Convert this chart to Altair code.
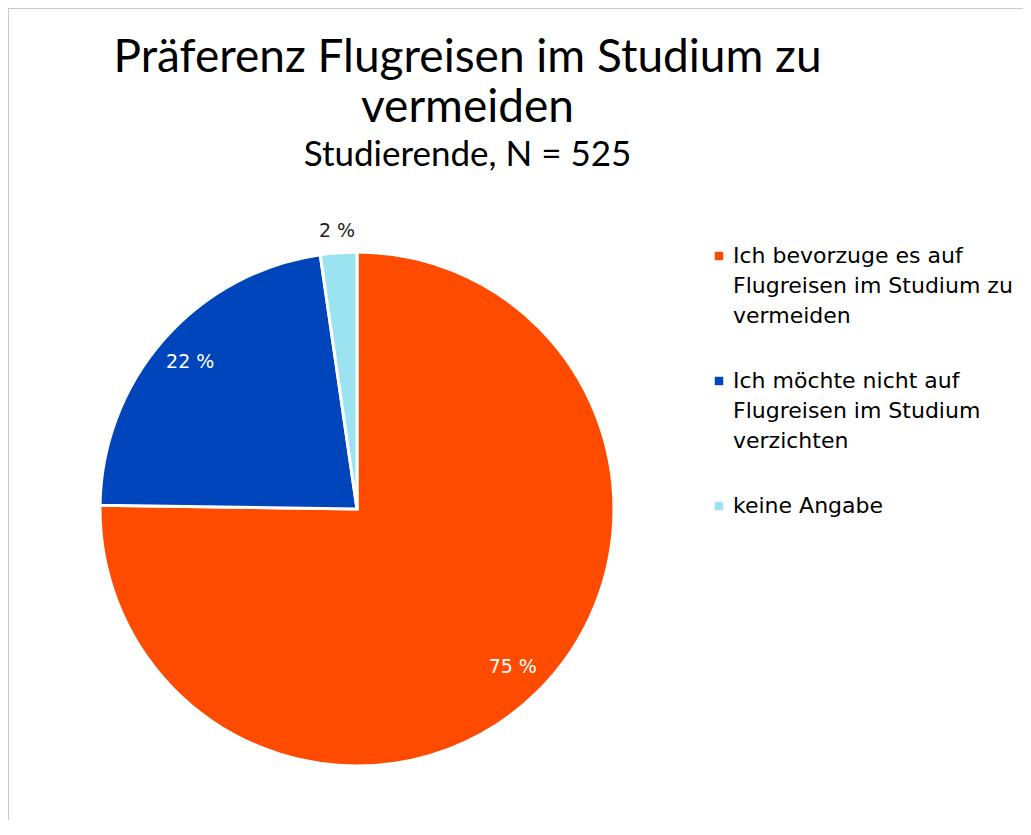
import altair as alt
import pandas as pd

# ---- data ----
categories = [
    "Ich bevorzuge es auf|Flugreisen im Studium zu|vermeiden",
    "Ich möchte nicht auf|Flugreisen im Studium|verzichten",
    "keine Angabe",
]
counts = [395, 118, 12]
order = [1, 2, 3]
colors = ["#FF4B00", "#0045BC", "#9BE3F0"]

title_lines = ["Präferenz Flugreisen im Studium zu", "vermeiden"]
subtitle = "Studierende, N = 525"

df = pd.DataFrame({"kategorie": categories, "anzahl": counts, "reihenfolge": order})

# ---- layout ----
PT = 185
W, H = 1015, 620
CX, CY = 349, 316
R = 257
TITLE_FONT = "Lato, sans-serif"
BODY_FONT = "DejaVu Sans, sans-serif"

base = alt.Chart(df).transform_joinaggregate(
    total="sum(anzahl)"
).transform_window(
    kum="sum(anzahl)", sort=[alt.SortField("reihenfolge")]
).transform_calculate(
    anteil="datum.anzahl / datum.total",
    winkel="2 * PI * (datum.kum - datum.anzahl / 2) / datum.total",
    label="format(round(100 * datum.anzahl / datum.total), 'd') + ' %'",
    lr="datum.anzahl / datum.total < 0.05 ? 279 : 222",
)

pie = base.mark_arc(radius=R, stroke="white", strokeWidth=3).encode(
    theta=alt.Theta("anzahl:Q", stack=True),
    order=alt.Order("reihenfolge:Q"),
    color=alt.Color(
        "kategorie:N",
        scale=alt.Scale(domain=categories, range=colors),
        legend=alt.Legend(
            orient="none",
            legendX=700,
            legendY=52,
            title=None,
            symbolType="square",
            symbolSize=72,
            symbolStrokeWidth=0,
            labelFont=BODY_FONT,
            labelFontSize=22,
            labelColor="black",
            labelLimit=400,
            labelExpr="split(datum.label, '|')",
            labelOffset=3,
            rowPadding=43,
            padding=0,
        ),
    ),
    x=alt.value(CX),
    y=alt.value(CY),
)

labels = base.mark_text(font=BODY_FONT, fontSize=19).encode(
    theta=alt.Theta("winkel:Q", scale=None),
    radius=alt.Radius("lr:Q", scale=None),
    text="label:N",
    color=alt.condition("datum.anteil < 0.05", alt.value("#1e1e1e"), alt.value("white")),
    x=alt.value(CX),
    y=alt.value(CY),
)

frame_data = pd.DataFrame({"f": [0]})
border_top = alt.Chart(frame_data).mark_rule(color="#c8c8c8", strokeWidth=1).encode(
    x=alt.value(0), x2=alt.value(W), y=alt.value(-PT + 0.5)
)
border_left = alt.Chart(frame_data).mark_rule(color="#c8c8c8", strokeWidth=1).encode(
    x=alt.value(0.5), y=alt.value(-PT), y2=alt.value(H + 10)
)

chart = alt.layer(border_top, border_left, pie, labels).properties(
    width=W,
    height=H,
    autosize=alt.AutoSizeParams(type="none"),
    padding={"left": 0, "top": PT, "right": 0, "bottom": 7},
    title=alt.Title(
        text=title_lines,
        subtitle=subtitle,
        anchor="middle",
        frame="group",
        dx=-48,
        offset=-166,
        font=TITLE_FONT,
        fontSize=46,
        fontWeight="normal",
        color="black",
        lineHeight=50,
        subtitleFont=TITLE_FONT,
        subtitleFontSize=35,
        subtitleColor="black",
        subtitlePadding=6,
    ),
).configure(
    style={"guide-label": {"lineHeight": 30}},
    view={"strokeWidth": 0},
)

chart.save("out.html", embed_options={"renderer": "svg", "actions": False})
